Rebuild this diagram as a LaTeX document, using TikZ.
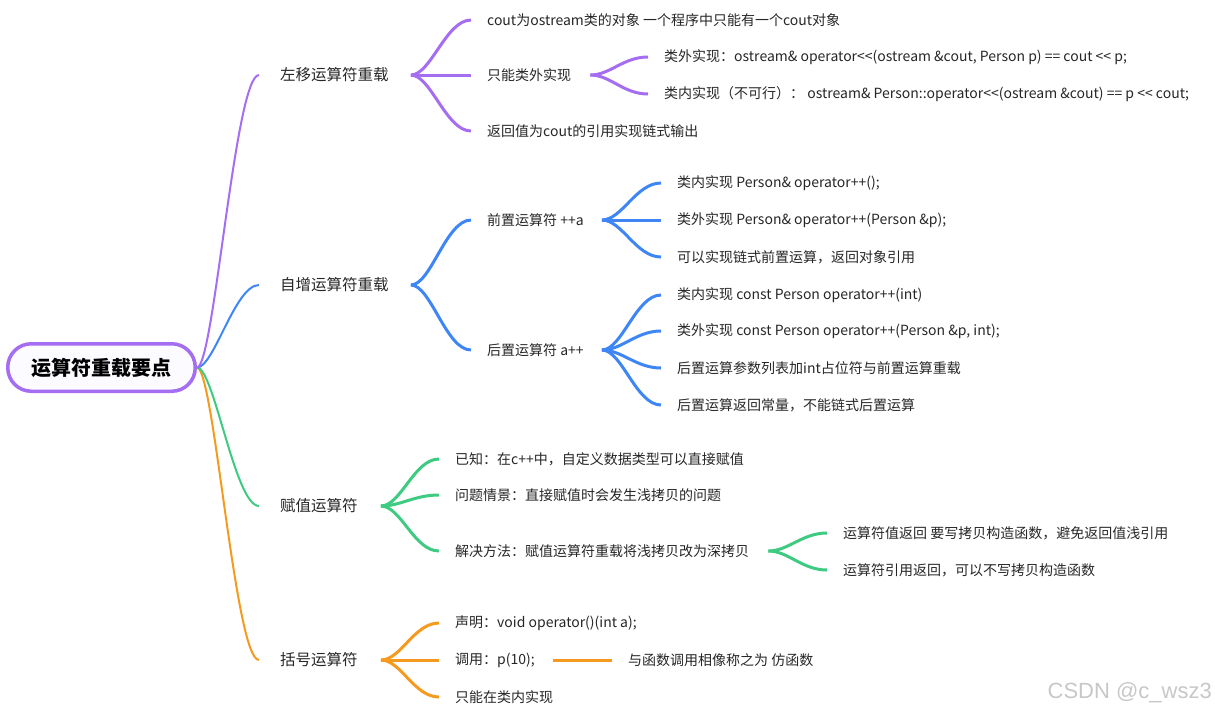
\documentclass[tikz,border=0pt]{standalone}
\usepackage{fontspec}
\setmainfont{Noto Sans CJK SC}
\newfontfamily\wmfont{Liberation Sans}
\definecolor{mPurple}{HTML}{A56DF2}
\definecolor{mBlue}{HTML}{3E85F6}
\definecolor{mGreen}{HTML}{3ECB81}
\definecolor{mOrange}{HTML}{F59A1E}
\definecolor{mText}{HTML}{262626}
\definecolor{mFill}{HTML}{FCFBFF}
\newcommand\fanline[4]{\draw[fanstyle,#1] ([xshift=#2]#3.east) .. controls +(20,0) and +(-25,0) .. ([xshift=-16pt]#4.west);}
\newcommand\rootline[2]{\draw[rootstyle,#1] (root.east) .. controls +(17,0) and +(-24,0) .. ([xshift=-21pt]#2.west);}
\begin{document}
\begin{tikzpicture}[x=1pt,y=-1pt,
  rootbox/.style={draw=mPurple, line width=3.5pt, fill=mFill, rounded corners=23.5pt,
    minimum width=187.5pt, minimum height=47.5pt, inner sep=0pt,
    font=\fontsize{20}{24}\selectfont\bfseries, text=black},
  lvA/.style={anchor=west, inner sep=0pt, text=mText, font=\fontsize{15.5}{18}\selectfont},
  lvB/.style={anchor=west, inner sep=0pt, text=mText, font=\fontsize{14}{17}\selectfont},
  rootstyle/.style={line width=2pt},
  fanstyle/.style={line width=3pt},
  wmstyle/.style={anchor=east, inner sep=0pt, text=black!22, font=\wmfont\fontsize{22}{26}\selectfont}
]
\useasboundingbox (0,0) rectangle (1215,716);
% root
\node[rootbox] (root) at (101.5,367.5) {运算符重载要点};
% level 1
\node[lvA] (a1) at (280,75) {左移运算符重载};
\node[lvA] (a2) at (280,285) {自增运算符重载};
\node[lvA] (a3) at (280,506) {赋值运算符};
\node[lvA] (a4) at (280,660) {括号运算符};
% purple
\node[lvB] (p1) at (487,20) {cout为ostream类的对象 一个程序中只能有一个cout对象};
\node[lvB] (p2) at (487,75) {只能类外实现};
\node[lvB] (p3) at (487,131) {返回值为cout的引用实现链式输出};
\node[lvB] (p21) at (664,57) {类外实现：ostream\& operator<{}<(ostream \&cout, Person p) == cout <{}< p;};
\node[lvB] (p22) at (664,94) {类内实现（不可行）： ostream\& Person::operator<{}<(ostream \&cout) == p <{}< cout;};
% blue
\node[lvB] (b1) at (487,220) {前置运算符 ++a};
\node[lvB] (b2) at (487,350) {后置运算符 a++};
\node[lvB] (b11) at (677,183) {类内实现 Person\& operator++();};
\node[lvB] (b12) at (677,220) {类外实现 Person\& operator++(Person \&p);};
\node[lvB] (b13) at (677,257) {可以实现链式前置运算，返回对象引用};
\node[lvB] (b21) at (677,295) {类内实现 const Person operator++(int)};
\node[lvB] (b22) at (677,331) {类外实现 const Person operator++(Person \&p, int);};
\node[lvB] (b23) at (677,368) {后置运算参数列表加int占位符与前置运算重载};
\node[lvB] (b24) at (677,405) {后置运算返回常量，不能链式后置运算};
% green
\node[lvB] (g1) at (455,459) {已知：在c++中，自定义数据类型可以直接赋值};
\node[lvB] (g2) at (455,495) {问题情景：直接赋值时会发生浅拷贝的问题};
\node[lvB] (g3) at (455,551) {解决方法：赋值运算符重载将浅拷贝改为深拷贝};
\node[lvB] (g31) at (843,533) {运算符值返回 要写拷贝构造函数，避免返回值浅引用};
\node[lvB] (g32) at (843,570) {运算符引用返回，可以不写拷贝构造函数};
% orange
\node[lvB] (o1) at (455,623) {声明：void operator()(int a);};
\node[lvB] (o2) at (455,660) {调用：p(10);};
\node[lvB] (o3) at (455,697) {只能在类内实现};
\node[lvB] (o21) at (628,660) {与函数调用相像称之为 仿函数};
% watermark
\node[wmstyle] (wm) at (1212,693) {CSDN @c\_wsz3};
% root connectors
\rootline{mOrange}{a4}
\rootline{mGreen}{a3}
\rootline{mBlue}{a2}
\rootline{mPurple}{a1}
% purple fans
\fanline{mPurple}{22pt}{a1}{p1}
\fanline{mPurple}{22pt}{a1}{p2}
\fanline{mPurple}{22pt}{a1}{p3}
\fanline{mPurple}{19pt}{p2}{p21}
\fanline{mPurple}{19pt}{p2}{p22}
% blue fans
\fanline{mBlue}{22pt}{a2}{b1}
\fanline{mBlue}{22pt}{a2}{b2}
\fanline{mBlue}{18pt}{b1}{b11}
\fanline{mBlue}{18pt}{b1}{b12}
\fanline{mBlue}{18pt}{b1}{b13}
\fanline{mBlue}{18pt}{b2}{b21}
\fanline{mBlue}{18pt}{b2}{b22}
\fanline{mBlue}{18pt}{b2}{b23}
\fanline{mBlue}{18pt}{b2}{b24}
% green fans
\fanline{mGreen}{23pt}{a3}{g1}
\fanline{mGreen}{23pt}{a3}{g2}
\fanline{mGreen}{23pt}{a3}{g3}
\fanline{mGreen}{19pt}{g3}{g31}
\fanline{mGreen}{19pt}{g3}{g32}
% orange fans
\fanline{mOrange}{23pt}{a4}{o1}
\fanline{mOrange}{23pt}{a4}{o2}
\fanline{mOrange}{23pt}{a4}{o3}
\draw[fanstyle,mOrange] ([xshift=18pt]o2.east) -- ([xshift=-16pt]o21.west);
\end{tikzpicture}
\end{document}
